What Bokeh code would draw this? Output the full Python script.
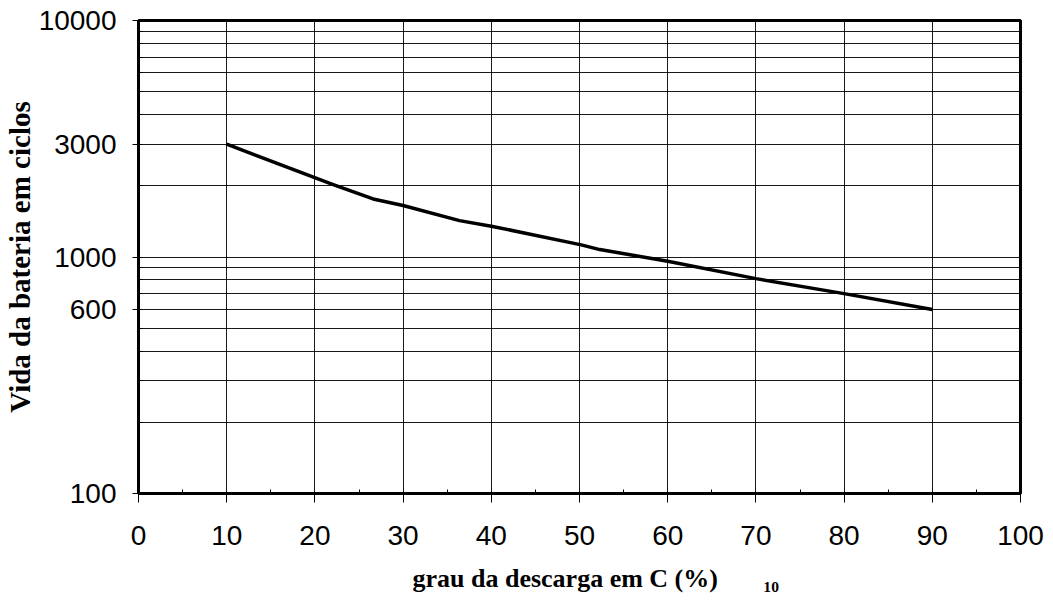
from bokeh.embed import file_html
from bokeh.models import FixedTicker, LinearAxis, NumeralTickFormatter, Range1d
from bokeh.plotting import figure
from bokeh.resources import INLINE

# Battery life (cycles) versus depth of discharge (% of C10)
depth_pct = [10, 22, 26.6, 30, 36.4, 40, 50.2, 52.3, 60, 70, 80, 90]
cycles = [3000, 2030, 1760, 1650, 1425, 1350, 1125, 1075, 960, 810, 700, 600]

x_ticks = [0, 10, 20, 30, 40, 50, 60, 70, 80, 90, 100]
x_minor = [5, 15, 25, 35, 45, 55, 65, 75, 85, 95]
y_labeled = [100, 600, 1000, 3000, 10000]
y_grid = [m * d for d in (100, 1000) for m in range(1, 10)] + [10000]

NBSP = "\u00a0"
x_title = NBSP * 5 + "grau da descarga em C (%)" + NBSP * 7 + "\u2081\u2080"
y_title = "Vida da bateria em ciclos"

W, H = 1053, 610
LEFT, RIGHT, TOP, BOTTOM = 138, 33, 20, 117

p = figure(
    width=W, height=H,
    x_range=Range1d(0, 100), y_range=Range1d(100, 10000),
    y_axis_type="log",
    output_backend="svg", toolbar_location=None,
    min_border_left=LEFT, min_border_right=RIGHT,
    min_border_top=TOP, min_border_bottom=BOTTOM,
    background_fill_color="white", border_fill_color="white",
)

# frame: heavy black box
p.outline_line_color = "black"
p.outline_line_width = 3
p.outline_line_alpha = 1

# grid lines
p.xgrid.ticker = FixedTicker(ticks=x_ticks[1:-1])
p.ygrid.ticker = FixedTicker(ticks=y_grid)
for g in (p.xgrid, p.ygrid):
    g.grid_line_color = "black"
    g.grid_line_width = 1
    g.grid_line_alpha = 0.9

tick_font = "Liberation Sans"
title_font = "Liberation Serif"

xa = p.xaxis[0]
xa.ticker = FixedTicker(ticks=x_ticks, minor_ticks=x_minor)
xa.axis_line_color = "black"
xa.axis_line_width = 3
xa.major_tick_out = 9
xa.major_tick_in = 0
xa.minor_tick_in = 4
xa.minor_tick_out = 0
xa.major_tick_line_color = "black"
xa.minor_tick_line_color = "black"
xa.major_label_text_font = tick_font
xa.major_label_text_font_size = "28px"
xa.major_label_text_color = "black"
xa.major_label_standoff = 23

ya = p.yaxis[0]
ya.ticker = FixedTicker(ticks=y_labeled, minor_ticks=y_grid)
ya.formatter = NumeralTickFormatter(format="0")
ya.axis_line_color = "black"
ya.axis_line_width = 3
ya.major_tick_out = 6
ya.major_tick_in = 0
ya.minor_tick_in = 4
ya.minor_tick_out = 0
ya.major_tick_line_color = "black"
ya.minor_tick_line_color = "black"
ya.major_label_text_font = tick_font
ya.major_label_text_font_size = "28px"
ya.major_label_text_color = "black"
ya.major_label_standoff = 16
ya.axis_label = y_title
ya.axis_label_text_font = title_font
ya.axis_label_text_font_size = "29px"
ya.axis_label_text_font_style = "bold"
ya.axis_label_text_color = "black"
ya.axis_label_standoff = 0

# a bare bottom axis that only carries the x title
title_axis = LinearAxis(
    ticker=FixedTicker(ticks=[]),
    axis_line_color=None,
    major_tick_line_color=None, minor_tick_line_color=None,
    major_tick_out=0, major_tick_in=0, minor_tick_out=0, minor_tick_in=0,
    major_label_standoff=0,
    axis_label=x_title,
    axis_label_text_font=title_font,
    axis_label_text_font_size="26px",
    axis_label_text_font_style="bold",
    axis_label_text_color="black",
    axis_label_standoff=16,
)
p.add_layout(title_axis, "below")

p.line(depth_pct, cycles, line_color="black", line_width=3.5, line_join="round")

open("out.html", "w").write(file_html(p, INLINE))
